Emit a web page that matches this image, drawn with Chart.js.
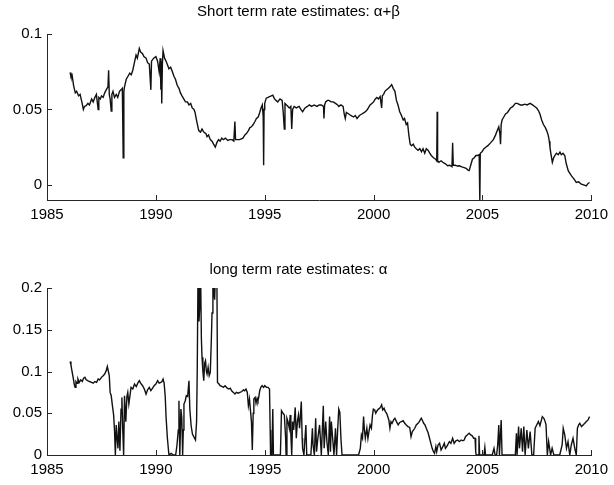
<!DOCTYPE html>
<html>
<head>
<meta charset="utf-8">
<script src="https://cdn.jsdelivr.net/npm/chart.js@4/dist/chart.umd.min.js"></script>
<style>
  body { margin: 0; background: #fff; }
  #wrap { position: relative; width: 614px; height: 485px; background: #fff; }
  .panel { position: absolute; left: 0; }
</style>
</head>
<body>
<div id="wrap">
  <canvas id="shortChart" class="panel" width="614" height="232" style="top:0"></canvas>
  <canvas id="longChart" class="panel" width="614" height="245" style="top:240px"></canvas>
</div>
<script>
// x ticks shared by both panels
const yearTicks = [1985, 1990, 1995, 2000, 2005, 2010];
const shortTicks = [0, 0.05, 0.1];
const longTicks = [0, 0.05, 0.1, 0.15, 0.2];

// Short term rate estimates: alpha+beta
const shortYears = [
  1986.06, 1986.1, 1986.15, 1986.22, 1986.3, 1986.36, 1986.45, 1986.52, 1986.6, 1986.67,
  1986.72, 1986.8, 1986.88, 1986.95, 1987.05, 1987.12, 1987.2, 1987.27, 1987.3, 1987.35,
  1987.38, 1987.45, 1987.5, 1987.58, 1987.65, 1987.72, 1987.8, 1987.83, 1987.86, 1987.9,
  1987.95, 1987.98, 1988.03, 1988.1, 1988.18, 1988.25, 1988.33, 1988.4, 1988.46, 1988.5,
  1988.53, 1988.56, 1988.64, 1988.72, 1988.8, 1988.87, 1988.94, 1989.0, 1989.09, 1989.15,
  1989.24, 1989.3, 1989.39, 1989.45, 1989.55, 1989.62, 1989.7, 1989.77, 1989.8, 1989.9,
  1990.0, 1990.08, 1990.15, 1990.2, 1990.23, 1990.25, 1990.27, 1990.3, 1990.33, 1990.4,
  1990.47, 1990.55, 1990.6, 1990.68, 1990.76, 1990.83, 1990.9, 1990.98, 1991.06, 1991.13,
  1991.2, 1991.28, 1991.36, 1991.45, 1991.52, 1991.6, 1991.67, 1991.75, 1991.8, 1991.88,
  1991.97, 1992.05, 1992.12, 1992.2, 1992.3, 1992.35, 1992.42, 1992.5, 1992.58, 1992.65,
  1992.73, 1992.8, 1992.88, 1992.95, 1993.03, 1993.1, 1993.2, 1993.3, 1993.4, 1993.5,
  1993.58, 1993.63, 1993.66, 1993.75, 1993.85, 1994.0, 1994.08, 1994.16, 1994.25, 1994.32,
  1994.39, 1994.47, 1994.55, 1994.62, 1994.7, 1994.77, 1994.83, 1994.89, 1994.93, 1994.95,
  1994.97, 1995.0, 1995.07, 1995.15, 1995.22, 1995.3, 1995.37, 1995.45, 1995.52, 1995.6,
  1995.7, 1995.8, 1995.85, 1995.9, 1995.93, 1996.0, 1996.07, 1996.13, 1996.2, 1996.24,
  1996.28, 1996.35, 1996.45, 1996.58, 1996.66, 1996.74, 1996.85, 1996.96, 1997.05, 1997.15,
  1997.27, 1997.4, 1997.5, 1997.6, 1997.7, 1997.72, 1997.75, 1997.8, 1997.88, 1997.95,
  1998.05, 1998.15, 1998.25, 1998.35, 1998.4, 1998.5, 1998.6, 1998.65, 1998.7, 1998.75,
  1998.86, 1998.95, 1999.08, 1999.16, 1999.24, 1999.35, 1999.46, 1999.58, 1999.69, 1999.76,
  1999.84, 1999.92, 2000.0, 2000.08, 2000.15, 2000.22, 2000.3, 2000.37, 2000.4, 2000.46,
  2000.52, 2000.6, 2000.68, 2000.75, 2000.83, 2000.9, 2000.98, 2001.05, 2001.12, 2001.2,
  2001.28, 2001.36, 2001.42, 2001.5, 2001.56, 2001.62, 2001.68, 2001.74, 2001.82, 2001.89,
  2001.96, 2002.04, 2002.12, 2002.2, 2002.27, 2002.35, 2002.42, 2002.5, 2002.58, 2002.65,
  2002.75, 2002.85, 2002.9, 2002.92, 2002.94, 2003.0, 2003.1, 2003.18, 2003.3, 2003.4,
  2003.5, 2003.6, 2003.63, 2003.66, 2003.75, 2003.85, 2003.94, 2004.05, 2004.16, 2004.25,
  2004.32, 2004.39, 2004.46, 2004.54, 2004.62, 2004.7, 2004.77, 2004.85, 2004.88, 2004.9,
  2004.98, 2005.07, 2005.15, 2005.25, 2005.38, 2005.5, 2005.6, 2005.68, 2005.75, 2005.8,
  2005.83, 2005.86, 2005.9, 2005.98, 2006.06, 2006.15, 2006.28, 2006.4, 2006.51, 2006.6,
  2006.74, 2006.85, 2006.95, 2007.05, 2007.19, 2007.3, 2007.4, 2007.5, 2007.58, 2007.64,
  2007.72, 2007.8, 2007.87, 2007.95, 2008.02, 2008.07, 2008.1, 2008.15, 2008.21, 2008.27,
  2008.33, 2008.4, 2008.48, 2008.56, 2008.62, 2008.7, 2008.78, 2008.85, 2008.94, 2009.0,
  2009.09, 2009.2, 2009.31, 2009.42, 2009.54, 2009.65, 2009.77, 2009.85, 2009.92
];
const shortRate = [
  0.0745, 0.072, 0.073, 0.066, 0.061, 0.062, 0.059, 0.060, 0.055, 0.050,
  0.052, 0.0525, 0.054, 0.053, 0.057, 0.055, 0.058, 0.060, 0.056, 0.050,
  0.058, 0.057, 0.059, 0.058, 0.061, 0.063, 0.065, 0.076, 0.060, 0.057,
  0.049, 0.060, 0.062, 0.058, 0.060, 0.058, 0.062, 0.063, 0.064, 0.018,
  0.062, 0.065, 0.070, 0.072, 0.074, 0.073, 0.076, 0.080, 0.086, 0.084,
  0.0905, 0.088, 0.087, 0.085, 0.084, 0.081, 0.080, 0.063, 0.082, 0.084,
  0.085, 0.082, 0.075, 0.084, 0.063, 0.082, 0.054, 0.080, 0.089, 0.084,
  0.082, 0.079, 0.077, 0.078, 0.075, 0.072, 0.070, 0.066, 0.064, 0.061,
  0.059, 0.057, 0.055, 0.055, 0.053, 0.054, 0.051, 0.050, 0.048, 0.042,
  0.036, 0.035, 0.037, 0.035, 0.034, 0.032, 0.033, 0.030, 0.029, 0.027,
  0.025, 0.028, 0.030, 0.029, 0.031, 0.030, 0.031, 0.0295, 0.030, 0.030,
  0.029, 0.042, 0.030, 0.030, 0.030, 0.031, 0.033, 0.034, 0.036, 0.038,
  0.0385, 0.040, 0.042, 0.044, 0.045, 0.048, 0.051, 0.053, 0.045, 0.013,
  0.050, 0.054, 0.0575, 0.058, 0.0585, 0.059, 0.0595, 0.057, 0.056, 0.055,
  0.057, 0.056, 0.048, 0.037, 0.054, 0.053, 0.052, 0.051, 0.052, 0.037,
  0.050, 0.052, 0.051, 0.052, 0.050, 0.0485, 0.051, 0.052, 0.053, 0.052,
  0.053, 0.052, 0.053, 0.053, 0.052, 0.044, 0.053, 0.055, 0.056, 0.056,
  0.055, 0.055, 0.054, 0.053, 0.052, 0.053, 0.052, 0.047, 0.044, 0.048,
  0.047, 0.046, 0.045, 0.046, 0.044, 0.046, 0.047, 0.048, 0.0495, 0.051,
  0.053, 0.054, 0.055, 0.057, 0.058, 0.057, 0.0585, 0.051, 0.059, 0.060,
  0.062, 0.063, 0.064, 0.065, 0.0665, 0.064, 0.062, 0.056, 0.053, 0.0485,
  0.046, 0.043, 0.044, 0.040, 0.041, 0.033, 0.027, 0.026, 0.027, 0.025,
  0.024, 0.023, 0.024, 0.022, 0.024, 0.021, 0.024, 0.023, 0.021, 0.0195,
  0.018, 0.017, 0.016, 0.0485, 0.016, 0.015, 0.016, 0.015, 0.014, 0.0127,
  0.013, 0.012, 0.028, 0.013, 0.013, 0.0125, 0.0127, 0.012, 0.0115, 0.011,
  0.010, 0.0095, 0.013, 0.017, 0.018, 0.0195, 0.0195, 0.020, -0.012, 0.021,
  0.022, 0.024, 0.025, 0.026, 0.028, 0.030, 0.033, 0.036, 0.0385, 0.034,
  0.027, 0.040, 0.043, 0.045, 0.047, 0.048, 0.0508, 0.052, 0.054, 0.054,
  0.053, 0.053, 0.0535, 0.053, 0.054, 0.053, 0.052, 0.0508, 0.049, 0.047,
  0.043, 0.040, 0.0385, 0.036, 0.033, 0.029, 0.025, 0.020, 0.015, 0.018,
  0.0195, 0.021, 0.020, 0.0217, 0.020, 0.021, 0.0195, 0.014, 0.0094, 0.008,
  0.006, 0.004, 0.0016, 0.002, 0.0005, 0.000, -0.0007, 0.001, 0.0016
];

// long term rate estimates: alpha
const longYears = [
  1986.06, 1986.1, 1986.15, 1986.2, 1986.25, 1986.29, 1986.33, 1986.38, 1986.42, 1986.48,
  1986.55, 1986.62, 1986.68, 1986.74, 1986.8, 1986.87, 1986.95, 1987.05, 1987.12, 1987.2,
  1987.28, 1987.35, 1987.42, 1987.5, 1987.58, 1987.65, 1987.72, 1987.77, 1987.82, 1987.86,
  1987.9, 1987.95, 1988.0, 1988.06, 1988.1, 1988.14, 1988.18, 1988.22, 1988.26, 1988.3,
  1988.35, 1988.4, 1988.44, 1988.48, 1988.52, 1988.56, 1988.62, 1988.67, 1988.71, 1988.76,
  1988.86, 1988.94, 1989.02, 1989.1, 1989.17, 1989.24, 1989.3, 1989.39, 1989.47, 1989.55,
  1989.62, 1989.7, 1989.77, 1989.85, 1989.92, 1990.0, 1990.08, 1990.15, 1990.23, 1990.28,
  1990.33, 1990.38, 1990.43, 1990.47, 1990.53, 1990.6, 1990.7, 1990.8, 1990.91, 1990.97,
  1991.03, 1991.06, 1991.1, 1991.15, 1991.19, 1991.23, 1991.26, 1991.29, 1991.35, 1991.4,
  1991.46, 1991.52, 1991.56, 1991.62, 1991.68, 1991.74, 1991.82, 1991.87, 1991.9, 1991.94,
  1991.98, 1992.02, 1992.05, 1992.09, 1992.12, 1992.16, 1992.2, 1992.24, 1992.28, 1992.32,
  1992.35, 1992.4, 1992.45, 1992.5, 1992.55, 1992.58, 1992.62, 1992.65, 1992.7, 1992.75,
  1992.8, 1992.83, 1992.9, 1992.95, 1993.05, 1993.1, 1993.18, 1993.28, 1993.35, 1993.42,
  1993.48, 1993.56, 1993.63, 1993.7, 1993.78, 1993.86, 1993.95, 1994.02, 1994.08, 1994.14,
  1994.2, 1994.25, 1994.3, 1994.34, 1994.39, 1994.43, 1994.47, 1994.5, 1994.56, 1994.6,
  1994.65, 1994.69, 1994.73, 1994.77, 1994.82, 1994.88, 1994.95, 1995.0, 1995.08, 1995.15,
  1995.22, 1995.25, 1995.27, 1995.33, 1995.37, 1995.4, 1995.5, 1995.6, 1995.72, 1995.77,
  1995.84, 1995.9, 1995.96, 1995.98, 1996.02, 1996.07, 1996.13, 1996.17, 1996.2, 1996.24,
  1996.28, 1996.33, 1996.4, 1996.45, 1996.5, 1996.55, 1996.6, 1996.68, 1996.72, 1996.74,
  1996.8, 1996.89, 1996.93, 1997.05, 1997.12, 1997.19, 1997.22, 1997.28, 1997.34, 1997.38,
  1997.44, 1997.52, 1997.6, 1997.69, 1997.73, 1997.8, 1997.86, 1997.92, 1997.98, 1998.02,
  1998.06, 1998.12, 1998.18, 1998.25, 1998.3, 1998.35, 1998.4, 1998.45, 1998.5, 1998.55,
  1998.63, 1998.9, 1999.1, 1999.31, 1999.39, 1999.44, 1999.49, 1999.54, 1999.58, 1999.62,
  1999.69, 1999.74, 1999.8, 1999.84, 1999.9, 1999.95, 1999.99, 2000.05, 2000.1, 2000.16,
  2000.22, 2000.28, 2000.33, 2000.37, 2000.42, 2000.48, 2000.54, 2000.6, 2000.65, 2000.7,
  2000.75, 2000.8, 2000.85, 2000.92, 2000.98, 2001.05, 2001.13, 2001.2, 2001.28, 2001.36,
  2001.43, 2001.5, 2001.58, 2001.66, 2001.72, 2001.78, 2001.84, 2001.89, 2001.96, 2002.04,
  2002.1, 2002.19, 2002.25, 2002.3, 2002.36, 2002.42, 2002.5, 2002.57, 2002.63, 2002.69,
  2002.75, 2002.8, 2002.86, 2002.9, 2002.96, 2003.03, 2003.1, 2003.18, 2003.25, 2003.3,
  2003.36, 2003.42, 2003.48, 2003.55, 2003.63, 2003.7, 2003.78, 2003.86, 2003.94, 2004.02,
  2004.1, 2004.16, 2004.22, 2004.3, 2004.39, 2004.46, 2004.53, 2004.6, 2004.66, 2004.69,
  2004.71, 2004.8, 2004.84, 2004.87, 2005.07, 2005.11, 2005.14, 2005.45, 2005.53, 2005.58,
  2005.65, 2005.7, 2005.75, 2005.78, 2005.86, 2005.9, 2006.36, 2006.51, 2006.56, 2006.59,
  2006.66, 2006.7, 2006.78, 2006.84, 2006.9, 2006.96, 2007.04, 2007.11, 2007.19, 2007.27,
  2007.35, 2007.42, 2007.49, 2007.57, 2007.64, 2007.71, 2007.75, 2007.82, 2007.88, 2007.92,
  2007.98, 2008.04, 2008.13, 2008.2, 2008.28, 2008.4, 2008.55, 2008.66, 2008.71, 2008.78,
  2008.86, 2008.93, 2009.01, 2009.08, 2009.16, 2009.24, 2009.31, 2009.36, 2009.42, 2009.47,
  2009.55, 2009.62, 2009.7, 2009.77, 2009.85, 2009.92
];
const longRate = [
  0.112, 0.108, 0.100, 0.093, 0.085, 0.081, 0.088, 0.086, 0.091, 0.087,
  0.090, 0.088, 0.092, 0.093, 0.090, 0.089, 0.088, 0.087, 0.086, 0.088,
  0.087, 0.091, 0.090, 0.093, 0.095, 0.097, 0.101, 0.106, 0.100, 0.095,
  0.075, 0.071, 0.060, 0.048, 0.030, 0.000, 0.036, 0.020, 0.008, 0.040,
  0.005, 0.055, 0.069, 0.030, 0.000, 0.071, 0.040, 0.070, 0.075, 0.061,
  0.081, 0.079, 0.085, 0.082, 0.086, 0.089, 0.086, 0.083, 0.079, 0.073,
  0.078, 0.081, 0.077, 0.080, 0.083, 0.085, 0.089, 0.086, 0.087, 0.088,
  0.091, 0.086, 0.070, 0.045, 0.020, 0.000, 0.002, 0.000, 0.000, 0.012,
  0.030, 0.065, 0.000, 0.055, 0.045, 0.000, 0.030, 0.061, 0.065, 0.071,
  0.070, 0.089, 0.055, 0.035, 0.025, 0.022, 0.018, 0.040, 0.100, 0.230,
  0.160, 0.180, 0.230, 0.140, 0.117, 0.100, 0.089, 0.110, 0.113, 0.100,
  0.097, 0.105, 0.095, 0.099, 0.140, 0.170, 0.230, 0.200, 0.186, 0.230,
  0.230, 0.087, 0.085, 0.083, 0.082, 0.081, 0.083, 0.080, 0.079, 0.080,
  0.077, 0.075, 0.073, 0.075, 0.074, 0.075, 0.076, 0.078, 0.077, 0.079,
  0.075, 0.059, 0.067, 0.055, 0.040, 0.006, 0.050, 0.067, 0.069, 0.062,
  0.068, 0.065, 0.070, 0.077, 0.081, 0.083, 0.081, 0.083, 0.081, 0.081,
  0.079, 0.030, 0.000, 0.000, 0.055, 0.000, 0.000, 0.000, 0.000, 0.053,
  0.050, 0.048, 0.020, 0.000, 0.044, 0.040, 0.032, 0.048, 0.025, 0.000,
  0.040, 0.030, 0.057, 0.020, 0.040, 0.048, 0.032, 0.064, 0.020, 0.008,
  0.000, 0.036, 0.000, 0.000, 0.000, 0.032, 0.012, 0.000, 0.044, 0.004,
  0.020, 0.036, 0.000, 0.059, 0.008, 0.040, 0.015, 0.000, 0.046, 0.004,
  0.040, 0.020, 0.000, 0.032, 0.000, 0.030, 0.055, 0.051, 0.020, 0.000,
  0.000, 0.000, 0.000, 0.000, 0.008, 0.024, 0.020, 0.046, 0.030, 0.020,
  0.032, 0.020, 0.030, 0.036, 0.032, 0.048, 0.055, 0.054, 0.050, 0.053,
  0.055, 0.056, 0.058, 0.060, 0.054, 0.056, 0.052, 0.050, 0.046, 0.042,
  0.032, 0.040, 0.038, 0.042, 0.044, 0.040, 0.036, 0.039, 0.040, 0.041,
  0.038, 0.036, 0.034, 0.033, 0.022, 0.028, 0.030, 0.032, 0.036, 0.038,
  0.040, 0.044, 0.041, 0.038, 0.036, 0.032, 0.027, 0.020, 0.014, 0.008,
  0.004, 0.002, 0.010, 0.004, 0.012, 0.014, 0.006, 0.010, 0.014, 0.008,
  0.010, 0.013, 0.016, 0.014, 0.020, 0.014, 0.017, 0.018, 0.016, 0.018,
  0.017, 0.018, 0.022, 0.024, 0.026, 0.024, 0.023, 0.020, 0.020, 0.004,
  0.000, 0.000, 0.023, 0.000, 0.000, 0.009, 0.000, 0.000, 0.008, 0.000,
  0.000, 0.012, 0.036, 0.000, 0.042, 0.000, 0.000, 0.000, 0.026, 0.000,
  0.034, 0.008, 0.032, 0.004, 0.034, 0.000, 0.030, 0.008, 0.028, 0.000,
  0.000, 0.032, 0.036, 0.040, 0.035, 0.042, 0.046, 0.044, 0.040, 0.036,
  0.000, 0.016, 0.000, 0.008, 0.000, 0.000, 0.000, 0.012, 0.032, 0.024,
  0.008, 0.016, 0.000, 0.012, 0.020, 0.008, 0.000, 0.032, 0.036, 0.038,
  0.034, 0.036, 0.038, 0.040, 0.042, 0.046
];

const fontFamily = "'Liberation Sans', Arial, Helvetica, sans-serif";
const axisColor = "#262626";

// MATLAB style ticks: short marks pointing into the plot area
const inwardTicks = {
  id: "inwardTicks",
  afterDraw(chart) {
    const { ctx, chartArea, scales } = chart;
    ctx.save();
    ctx.strokeStyle = axisColor;
    ctx.lineWidth = 1;
    ctx.beginPath();
    scales.x.ticks.forEach((t) => {
      const px = Math.round(scales.x.getPixelForValue(t.value)) + 0.5;
      ctx.moveTo(px, chartArea.bottom);
      ctx.lineTo(px, chartArea.bottom - 5);
    });
    scales.y.ticks.forEach((t) => {
      const py = Math.round(scales.y.getPixelForValue(t.value)) + 0.5;
      ctx.moveTo(chartArea.left, py);
      ctx.lineTo(chartArea.left + 5, py);
    });
    ctx.stroke();
    ctx.restore();
  },
};

function makePanel(id, title, years, values, yMin, yMax, yTicks, titlePad, xHeight) {
  const ctx = document.getElementById(id).getContext("2d");
  return new Chart(ctx, {
    type: "line",
    data: {
      datasets: [
        {
          data: years.map((y, i) => ({ x: y, y: values[i] })),
          borderColor: "#111",
          borderWidth: 1.4,
          pointRadius: 0,
          tension: 0,
          fill: false,
        },
      ],
    },
    options: {
      responsive: false,
      animation: false,
      events: [],
      layout: { padding: { top: 0, right: 17, bottom: 0, left: 0 } },
      plugins: {
        legend: { display: false },
        tooltip: { enabled: false },
        title: {
          display: true,
          text: title,
          color: "#000",
          font: { family: fontFamily, size: 15, weight: "normal" },
          padding: titlePad,
        },
      },
      scales: {
        x: {
          type: "linear",
          min: 1985,
          max: 2010,
          afterBuildTicks: (s) => { s.ticks = yearTicks.map((v) => ({ value: v })); },
          afterFit: (s) => { s.height = xHeight; },
          grid: { display: false, drawTicks: false },
          border: { display: true, color: axisColor, width: 1 },
          ticks: {
            color: "#000",
            padding: 6,
            maxRotation: 0,
            font: { family: fontFamily, size: 15 },
            callback: (v) => String(v),
          },
        },
        y: {
          min: yMin,
          max: yMax,
          afterBuildTicks: (s) => { s.ticks = yTicks.map((v) => ({ value: v })); },
          afterFit: (s) => { s.width = 47; },
          grid: { display: false, drawTicks: false },
          border: { display: true, color: axisColor, width: 1 },
          ticks: {
            color: "#000",
            padding: 5,
            font: { family: fontFamily, size: 15 },
            callback: (v) => String(v),
          },
        },
      },
    },
    plugins: [inwardTicks],
  });
}

makePanel("shortChart", "Short term rate estimates: \u03b1+\u03b2", shortYears, shortRate,
  -0.01, 0.1, shortTicks, { top: 3, bottom: 13 }, 32);
makePanel("longChart", "long term rate estimates: \u03b1", longYears, longRate,
  0, 0.2, longTicks, { top: 21, bottom: 9 }, 30);
</script>
</body>
</html>
